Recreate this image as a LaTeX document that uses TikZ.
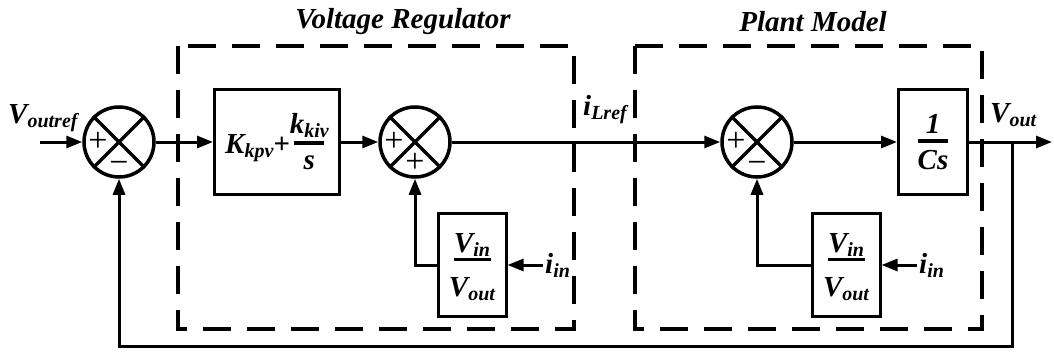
\documentclass[tikz,border=0pt]{standalone}
\usepackage{fontspec}
\setmainfont{Liberation Serif}
\usetikzlibrary{arrows.meta,positioning,calc}

\newcommand{\bigbi}{\fontsize{29}{32}\selectfont\bfseries\itshape}
\newcommand{\sbs}[1]{\raisebox{-4pt}{\fontsize{20}{22}\selectfont #1}}
\newcommand{\bfr}[5]{\vbox{\offinterlineskip\halign{\hfil##\hfil\cr
  \vrule height 24pt depth #2 width 0pt\relax #4\cr
  \rule{#1}{3.5pt}\cr
  \vrule height #3 depth 5pt width 0pt\relax #5\cr}}}

\begin{document}
\begin{tikzpicture}[x=1pt,y=-1pt,>={Triangle[length=16pt,width=12pt]},
  blk/.style={draw,line width=3pt,minimum height=105pt,inner sep=0pt,font=\bigbi},
  sumc/.style={draw,circle,line width=3.5pt,minimum size=70pt,inner sep=0pt},
  grp/.style={line width=4pt,dash pattern=on 28pt off 16pt},
  lbl/.style={inner sep=0pt,font=\bigbi},
  sgn/.style={inner sep=0pt,font=\fontsize{34}{34}\selectfont},
  wire/.style={line width=3pt}]
  \useasboundingbox (0,0) rectangle (1054,353);
  \draw[grp] (178,46) rectangle (574,329);
  \draw[grp] (635,46) rectangle (982,329);
  \node[lbl] (vrtitle) at (403,22) {Voltage Regulator};
  \node[lbl] (pmtitle) at (813,22) {Plant Model};

  \node[sumc] (sumv) at (119,142) {};
  \node[blk,minimum width=125pt] (pi) at (277,142) {K\sbs{kpv}+\raisebox{-16.75pt}{\bfr{30pt}{8pt}{25pt}{k\sbs{kiv}}{s}}};
  \node[sumc] (sumi) at (415,142) {};
  \node[sumc] (sumo) at (757,142) {};
  \node[blk,minimum width=69pt] (plant) at (933,142) {\bfr{30pt}{5.5pt}{27pt}{1}{Cs}};
  \node[blk,minimum width=68pt,minimum height=103pt] (ffa) at (472,265) {\bfr{37pt}{5pt}{35pt}{V\sbs{in}}{V\sbs{out}}};
  \node[blk,minimum width=68pt,minimum height=103pt] (ffb) at (846,265) {\bfr{37pt}{5pt}{35pt}{V\sbs{in}}{V\sbs{out}}};
  \foreach \s in {sumv,sumi,sumo}
    \draw[line width=3.5pt] (\s.north west) -- (\s.south east) (\s.north east) -- (\s.south west);

  \node[sgn] (sva) at ($(sumv)+(-21,0)$) {+};
  \node[sgn] (svb) at ($(sumv)+(0,25)$) {−};
  \node[sgn] (sia) at ($(sumi)+(-21,0)$) {+};
  \node[sgn] (sib) at ($(sumi)+(0,21)$) {+};
  \node[sgn] (soa) at ($(sumo)+(-21,0)$) {+};
  \node[sgn] (sob) at ($(sumo)+(0,25)$) {−};

  \coordinate (vin) at (40,142);
  \coordinate (vo) at (1052,142);
  \coordinate (br) at (1012,142);
  \coordinate (ia) at (543,265);
  \coordinate (ib) at (917,265);
  \node[lbl,anchor=base west] (vrefl) at (8,123) {V\sbs{outref}};
  \node[lbl,anchor=base west] (ilref) at (583,115) {i\sbs{Lref}};
  \node[lbl,anchor=base west] (voutl) at (990,122) {V\sbs{out}};
  \node[lbl,anchor=west] (iina) at ($(ia)+(2,0)$) {i\sbs{in}};
  \node[lbl,anchor=west] (iinb) at ($(ib)+(2,0)$) {i\sbs{in}};

  \draw[wire,->] (vin) -- (sumv);
  \draw[wire,->] (sumv) -- (pi);
  \draw[wire,->] (pi) -- (sumi);
  \draw[wire,->] (sumi) -- (sumo);
  \draw[wire,->] (sumo) -- (plant);
  \draw[wire,->] (plant) -- (vo);
  \draw[wire,->] (br) -- ++(0,204) -| (sumv);
  \draw[wire,->] (ffa) -| (sumi);
  \draw[wire,->] (ffb) -| (sumo);
  \draw[wire,->] (ia) -- (ffa);
  \draw[wire,->] (ib) -- (ffb);
\end{tikzpicture}
\end{document}
